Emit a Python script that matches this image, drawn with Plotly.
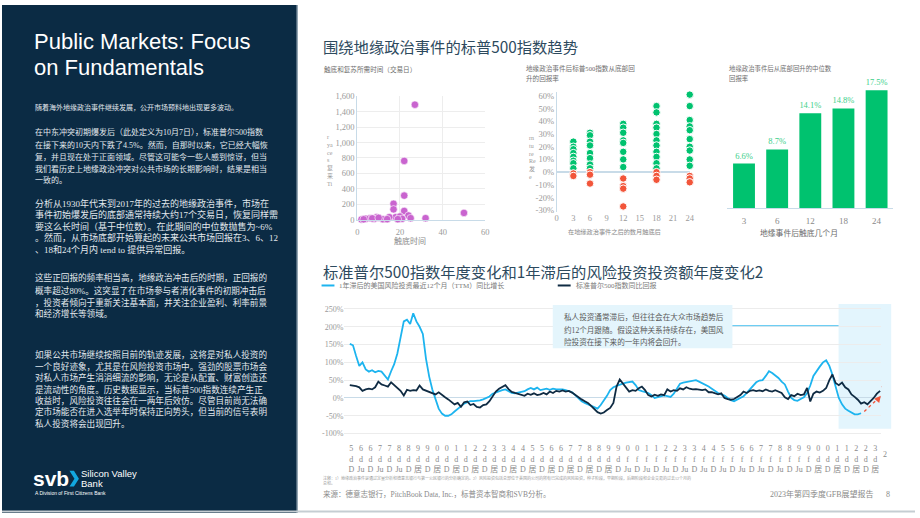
import plotly.graph_objects as go
import pandas as pd

W, H = 920, 518


def X(px):
    return px / W


def Y(py):
    return 1 - py / H


# ---------------- DATA ----------------
# Chart 1: days to bottom vs days to recover (trading days)
bottom_days = [27, 22, 22, 17, 17, 22, 50, 24, 9, 18, 20, 15, 6, 2, 12, 14, 21, 25, 32, 4, 19, 8, 3, 7, 10]
recover_days = [1490, 762, 313, 207, 135, 114, 89, 55, 34, 34, 42, 34, 21, 4, 8, 8, 13, 21, 21, 13, 8, 13, 6, 18, 25]
c1_yticks = [0, 200, 400, 600, 800, 1000, 1200, 1400, 1600]

# Chart 2: returns from the bottom, by months after
pos_months = [3] * 8 + [6] * 8 + [12] * 8 + [18] * 11 + [24] * 10
pos_returns = [24, 20, 18, 15, 12, 9, 7, 3,
               31, 29, 24, 21, 15, 11, 6, 3,
               38, 35, 31, 25, 23, 16, 10, 4,
               52, 47, 38, 35, 30, 25, 21, 16, 12, 7, 3,
               61, 52, 41, 36, 33, 26, 20, 17, 10, 5]
neg_months = [3, 3, 6, 6, 6, 12, 12, 12, 12, 18, 18, 18, 24, 24, 24]
neg_returns = [-1, -3, 0, -2, -9, -5, -11, -13, -27, 0, -3, -6, -3, -5, -8]
c2_yticks = [-30, -20, -10, 0, 10, 20, 30, 40, 50, 60]

# Chart 3: median returns
bar_months = ["3", "6", "12", "18", "24"]
bar_median = [6.6, 8.7, 14.1, 14.8, 17.5]

# Chart 4: YoY series, every two months starting Nov 1995
series_start = "1995-11-01"
sp500_yoy = [
    36,
    35, 33, 30, 20, 24, 26,
    24, 30, 46, 38, 35, 32,
    44, 36, 28, 20, 7, 23,
    20, 22, 21, 35, 24, 20,
    18, 14, 10, 16, 8, 2,
    -4, -12, -18, -14, -25, -12,
    -10, -20, -17, -25, -27, -20,
    -18, -9, 6, 18, 26, 30,
    36, 25, 17, 14, 12, 9,
    6, 12, 9, 13, 8, 10,
    14, 10, 18, 14, 20, 18,
    21, 18, 20, 15, 8, 2,
    -4, -9, -14, -22, -30, -40,
    -44, -41, -34, -28, -14, 32,
    52, 40, 30, 18, 22, 20,
    27, 32, 22, 8, 4, 9,
    6, 10, 8, 24, 18, 22,
    20, 27, 24, 30, 26, 24,
    25, 23, 22, 24, 16, 16,
    14, 10, 13, 0, -3, -5,
    -3, 2, 8, 18, 14, 20,
    22, 19, 21, 19, 24, 20,
    18, 22, 18, 14, 2, -3,
    8, 5, 12, 8, 10, 28,
    -10, 12, 18, 15, 20, 28,
    50, 66, 42, 36, 43, 30,
    24, 10, 3, -5, -16, -12,
    -18, -10, 0, 12, 20,
]
vc_lag_yoy = [
    152,
    148, 118, 90, 100, 80, 74,
    78, 72, 76, 74, 62, 52,
    75, 95, 125, 165, 215, 220,
    208, 238, 215, 200, 180, 110,
    60, 24, -5, -30, -44, -50,
    -50, -46, -38, -30, -22, -16,
    -12, -9, -9, -9, -7, -4,
    -1, 4, 12, 16, 19, 22,
    24, 18, 14, 13, 15, 16,
    19, 24, 28, 24, 29, 22,
    24, 26, 23, 26, 24, 25,
    24, 22, 20, 16, 8, -2,
    -9, -14, -18, -21, -24, -30,
    -20, -8, 6, 22, 30, 34,
    38, 40, 43, 44, 46, 36,
    22, 19, 17, 14, 8, 0,
    2, 5, 7, 5, 3, 12,
    28, 40, 43, 45, 47, 50,
    50, 46, 42, 38, 32, 26,
    19, 14, 10, 7, 0, -6,
    -9, -5, -1, 5, 14, 25,
    34, 44, 49, 50, 62, 75,
    70, 64, 56, 46, 38, 18,
    0, -6, -8, -3, 2, 14,
    35, 62, 76, 88, 100, 106,
    90, 65, 32, 0, -18, -30,
    -36, -42, -46, -46, -43,
]
c4_yticks = [-100, -50, 0, 50, 100, 150, 200, 250]
proj_dates = ["2022-11-01", "2023-08-20"]
proj_vals = [-38, 2]
hook_dates = ["2023-09-20", "2023-11-10", "2024-01-01", "2023-12-05"]
hook_vals = [32, 31, 23, 12]
tick_dates = pd.date_range("1995-12-01", "2023-06-01", freq="6MS")

# ---------------- STYLE ----------------
NAVY = "#0b2b44"
SLATE = "#2d4a5e"
LIGHT_AX = "#c8dbe8"
BLUE = "#1db4ef"
DARK = "#0f2b43"
GREEN = "#00c26f"
RED = "#f2553a"
ORCHID = "#c964cf"
SERIF = "Liberation Serif, Noto Sans CJK SC"
SANS_CJK = "Noto Sans CJK SC"

fig = go.Figure()

# Chart 1 scatter
fig.add_trace(go.Scatter(
    x=bottom_days, y=recover_days, mode="markers", xaxis="x", yaxis="y",
    marker=dict(color=ORCHID, size=7.5, line=dict(color="white", width=0.6)),
    cliponaxis=False, hoverinfo="skip"))

# Chart 2 strip
fig.add_trace(go.Scatter(
    x=pos_months, y=pos_returns, mode="markers", xaxis="x2", yaxis="y2",
    marker=dict(color=GREEN, size=7.5, line=dict(color="white", width=1)),
    cliponaxis=False, hoverinfo="skip"))
fig.add_trace(go.Scatter(
    x=neg_months, y=neg_returns, mode="markers", xaxis="x2", yaxis="y2",
    marker=dict(color=RED, size=7.5, line=dict(color="white", width=1)),
    cliponaxis=False, hoverinfo="skip"))

# Chart 3 bars
fig.add_trace(go.Bar(
    x=bar_months, y=bar_median, xaxis="x3", yaxis="y3",
    marker=dict(color=GREEN, line=dict(width=0)),
    text=[f"{v}%" for v in bar_median], textposition="outside",
    textfont=dict(family=SERIF, size=8.5, color="#3ccf8a"),
    cliponaxis=False, hoverinfo="skip"))

# Chart 4 lines
sp_dates = pd.date_range(series_start, periods=len(sp500_yoy), freq="2MS")
vc_dates = pd.date_range(series_start, periods=len(vc_lag_yoy), freq="2MS")
fig.add_trace(go.Scatter(
    x=vc_dates, y=vc_lag_yoy, mode="lines", xaxis="x4", yaxis="y4",
    line=dict(color=BLUE, width=1.8), hoverinfo="skip", cliponaxis=False))
fig.add_trace(go.Scatter(
    x=sp_dates, y=sp500_yoy, mode="lines", xaxis="x4", yaxis="y4",
    line=dict(color=DARK, width=1.8), hoverinfo="skip", cliponaxis=False))
fig.add_trace(go.Scatter(
    x=proj_dates, y=proj_vals, mode="lines", xaxis="x4", yaxis="y4",
    line=dict(color=RED, width=1.3, dash="dot"), hoverinfo="skip", cliponaxis=False))
fig.add_trace(go.Scatter(
    x=hook_dates, y=hook_vals, mode="lines", xaxis="x4", yaxis="y4",
    line=dict(color=RED, width=1.3, dash="dot", shape="spline"), hoverinfo="skip",
    cliponaxis=False))

# tick text for bottom axis (as rendered in the original, stacked glyphs)
tick_text = []
for d in tick_dates:
    digit = str(d.year)[-1]
    is_dec = d.month == 12
    mid = "d" if (d.year < 2010 or d.year >= 2020) else "f"
    if is_dec:
        bot = "D"
    elif 1996 <= d.year <= 1998 or 2010 <= d.year <= 2019:
        bot = "Ju"
    else:
        bot = "居"
    tick_text.append(f"{digit}<br>{mid}<br>{bot}")

tickfont = dict(family=SERIF, size=8.5, color="#9a9a9a")

fig.update_layout(
    width=W, height=H, margin=dict(l=0, r=0, t=0, b=0),
    paper_bgcolor="white", plot_bgcolor="rgba(0,0,0,0)",
    showlegend=False, bargap=0.34,
    xaxis=dict(domain=[X(358), X(487)], range=[0, 60], tickvals=[0, 20, 40, 60],
               showgrid=True, gridcolor="#ededed", zeroline=False,
               showline=True, linecolor=LIGHT_AX, linewidth=1,
               tickfont=tickfont, ticks="", ticklabelstandoff=4, anchor="y"),
    yaxis=dict(domain=[Y(219), Y(93)], range=[0, 1600], tickmode="array",
               tickvals=c1_yticks, ticktext=[f"{v:,}" for v in c1_yticks],
               showgrid=True, gridcolor="#ededed", zeroline=False,
               showline=True, linecolor=LIGHT_AX, linewidth=1,
               tickfont=tickfont, ticks="", anchor="x"),
    xaxis2=dict(domain=[X(559), X(693)], range=[0, 24], tickvals=list(range(0, 25, 3)),
                showgrid=False, zeroline=False, showline=False,
                tickfont=tickfont, ticks="", anchor="y2"),
    yaxis2=dict(domain=[Y(210.6), Y(88.8)], range=[-31, 63], tickmode="array",
                tickvals=c2_yticks, ticktext=[f"{v}%" for v in c2_yticks],
                showgrid=False, zeroline=True, zerolinecolor=LIGHT_AX,
                zerolinewidth=1.5, showline=True, linecolor=LIGHT_AX, linewidth=1,
                tickfont=tickfont, ticks="", anchor="x2"),
    xaxis3=dict(domain=[X(731), X(898)], type="category", showgrid=False, zeroline=False,
                showline=True, linecolor=LIGHT_AX, linewidth=1.2,
                tickfont=dict(family=SERIF, size=9, color="#8a8a8a"), ticks="",
                ticklabelstandoff=4, anchor="y3"),
    yaxis3=dict(domain=[Y(207), Y(76.7)], range=[0, 19], visible=False, anchor="x3"),
    xaxis4=dict(domain=[X(345), X(886)], type="date", range=["1995-07-20", "2023-09-23"],
                tickmode="array", tickvals=list(tick_dates), ticktext=tick_text, tickangle=0,
                showgrid=False, zeroline=False, showline=False, ticklabelstandoff=7,
                tickfont=dict(family=SERIF, size=8, color="#8a8a8a"), ticks="", anchor="y4"),
    yaxis4=dict(domain=[Y(438.8), Y(305.6)], range=[-105, 262], tickmode="array",
                tickvals=c4_yticks, ticktext=[f"{v}%" for v in c4_yticks],
                showticklabels=True, side="left",
                showgrid=True, gridcolor="#ececec", zeroline=True, zerolinecolor=LIGHT_AX,
                zerolinewidth=1, showline=False,
                tickfont=dict(family=SERIF, size=8, color="#9a9a9a"), ticks="", anchor="x4"),
)

shapes = []
# left navy panel
shapes.append(dict(type="rect", xref="paper", yref="paper", x0=0, x1=X(297), y0=0, y1=1,
                   fillcolor=NAVY, line=dict(width=0), layer="below"))
shapes.append(dict(type="line", xref="paper", yref="paper", x0=X(297.5), x1=X(297.5), y0=0, y1=1,
                   line=dict(color="#6f8798", width=1), layer="below"))
# bottom grey rule
shapes.append(dict(type="line", xref="paper", yref="paper", x0=0, x1=1, y0=Y(516.5), y1=Y(516.5),
                   line=dict(color="#c5cdd2", width=2), layer="above"))
# svb chevron
cx = [68, 72.5, 77.5, 72.5, 68, 73]
cy = [475, 475, 483, 491, 491, 483]
path = "M " + " L ".join(f"{X(a):.5f},{Y(b):.5f}" for a, b in zip(cx, cy)) + " Z"
shapes.append(dict(type="path", xref="paper", yref="paper", path=path,
                   fillcolor="#12a8e0", line=dict(width=0)))
# bottom chart: shaded forecast band, note box, connector
shapes.append(dict(type="rect", xref="paper", yref="paper", x0=X(843), x1=X(896), y0=Y(432), y1=Y(305),
                   fillcolor="#e3f5fd", line=dict(width=0), layer="below"))
shapes.append(dict(type="rect", xref="paper", yref="paper", x0=X(555), x1=X(736), y0=Y(350), y1=Y(306),
                   fillcolor="#e4f5fc", line=dict(width=0), layer="above"))
shapes.append(dict(type="line", xref="paper", yref="paper", x0=X(736), x1=X(843), y0=Y(327), y1=Y(327),
                   line=dict(color="#4fc3f1", width=1)))
# legend swatches
shapes.append(dict(type="line", xref="paper", yref="paper", x0=X(322), x1=X(335), y0=Y(286), y1=Y(286),
                   line=dict(color=BLUE, width=2)))
shapes.append(dict(type="line", xref="paper", yref="paper", x0=X(560), x1=X(573), y0=Y(286), y1=Y(286),
                   line=dict(color=DARK, width=2)))
fig.update_layout(shapes=shapes)

ann = []


def txt(px, py, s, size, color, family=SERIF, xanchor="left", yanchor="middle", weight=None):
    f = dict(family=family, size=size, color=color)
    if weight:
        f["weight"] = weight
    ann.append(dict(xref="paper", yref="paper", x=X(px), y=Y(py), text=s, showarrow=False,
                    xanchor=xanchor, yanchor=yanchor, align="left", font=f, borderpad=0))


# ---- left panel ----
WH = "#ffffff"
BODY = "#e2e8ed"
txt(31, 37, "Public Markets: Focus", 22, WH, family="Liberation Sans", weight=300)
txt(31, 63.5, "on Fundamentals", 22, WH, family="Liberation Sans", weight=300)
txt(32, 105, "随着海外地缘政治事件继续发展，公开市场预料地出现更多波动。", 7, BODY)

para2 = ["在中东冲突初期爆发后（此处定义为10月7日），标准普尔500指数",
         "在接下来的10天内下跌了4.5%。然而，自那时以来，它已经大幅恢",
         "复，并且现在处于正面领域。尽管这可能令一些人感到惊讶，但当",
         "我们看历史上地缘政治冲突对公共市场的长期影响时，结果是相当",
         "一致的。"]
for s, y in zip(para2, [130, 142.5, 155, 167, 178]):
    txt(32, y, s, 8, BODY)

para3 = ["分析从1930年代末到2017年的过去的地缘政治事件，市场在",
         "事件初始爆发后的底部通常持续大约17个交易日，恢复同样需",
         "要这么长时间（基于中位数）。在此期间的中位数抛售为~6%",
         "。然而，从市场底部开始算起的未来公共市场回报在3、6、12",
         "、18和24个月内 tend to 提供异常回报。"]
for s, y in zip(para3, [202, 213.8, 225.6, 237.4, 249.2]):
    txt(32, y, s, 9, BODY)

para4 = ["这些正回报的频率相当高，地缘政治冲击后的时期，正回报的",
         "概率超过80%。这突显了在市场参与者消化事件的初期冲击后",
         "，投资者倾向于重新关注基本面，并关注企业盈利、利率前景",
         "和经济增长等领域。"]
for s, y in zip(para4, [278.3, 291.2, 303.3, 315]):
    txt(32, y, s, 8.6, BODY)

para5 = ["如果公共市场继续按照目前的轨迹发展，这将是对私人投资的",
         "一个良好迹象，尤其是在风险投资市场中。强劲的股票市场会",
         "对私人市场产生涓涓细流的影响，无论是从配置、财富创造还",
         "是流动性的角度。历史数据显示，当标普500指数连续产生正",
         "收益时，风险投资往往会在一两年后效仿。尽管目前尚无法确",
         "定市场能否在进入选举年时保持正向势头，但当前的信号表明",
         "私人投资将会出现回升。"]
for s, y in zip(para5, [356.7, 368.3, 379.8, 391.7, 403.3, 415, 426.7]):
    txt(32, y, s, 8.6, BODY)

# logo
txt(30.5, 482.5, "svb", 21, WH, family="Liberation Sans", weight="bold")
txt(79, 478, "Silicon Valley", 9.5, WH, family="Liberation Sans")
txt(79, 487.5, "Bank", 9.5, WH, family="Liberation Sans")
txt(32, 497.5, "A Division of First Citizens Bank", 5, WH, family="Liberation Sans")

# ---- right side titles ----
txt(322, 42, "围绕地缘政治事件的标普500指数趋势", 15.3, SLATE, family=SANS_CJK)
txt(322, 271, "标准普尔500指数年度变化和1年滞后的风险投资投资额年度变化2", 15.3, SLATE, family=SANS_CJK)

SUB = "#6e6e6e"
txt(323, 66, "触底和复苏所需时间（交易日）", 6.6, SUB)
txt(527, 65, "地缘政治事件后标普500指数从底部回", 6.6, SUB)
txt(527, 74.5, "升的回报率", 6.6, SUB)
txt(732, 65, "地缘政治事件后从底部回升的中位数", 6.4, SUB)
txt(732, 75, "回报率", 6.4, SUB)

# axis titles
txt(411, 240.5, "触底时间", 8, "#8a8a8a", xanchor="center")
txt(617, 231, "在地缘政治事件之后的数月触底后", 6.2, "#8a8a8a", xanchor="center")
txt(803, 232, "地缘事件后触底几个月", 7.8, "#6a6a6a", xanchor="center")
txt(331, 159, "r<br>ya<br>ce<br>s<br>复<br>来<br>Ti", 6, "#9a9a9a", xanchor="center")
txt(535, 156, "rn<br>tu<br>re<br>Re<br>发<br>e", 6, "#9a9a9a", xanchor="center")

# bottom chart legend
txt(339, 286, "1年滞后的美国风险投资最近12个月（TTM）同比增长", 7, "#7a7a7a")
txt(577, 286, "标准普尔500指数同比回报", 7, "#7a7a7a")

# note box
for s, y in zip(["私人投资通常滞后，但往往会在大众市场趋势后",
                 "约12个月跟随。假设这种关系持续存在，美国风",
                 "险投资在接下来的一年内将会回升。"], [318, 331, 343.5]):
    txt(565, y, s, 7.6, "#5a5a5a")

txt(890, 458, "2", 8, "#8a8a8a", xanchor="center")

# footer
txt(322, 482.5, "注释：1）地缘政治事件是通过定量分析和德意志银行与第一公民银行的分析确定的。2）风险投资包括总部位于美国的公司的所有已完成的风险投资，种子阶段，早期阶段，后期阶段和企业交易的过去12个月的", 4, "#9a9a9a")
txt(322, 487.5, "总和。", 4, "#9a9a9a")
txt(322, 499, "来源：德意志银行，PitchBook Data, Inc.，标普资本智商和SVB分析。", 7.5, "#8a8a8a")
txt(880, 499, "2023年第四季度GFB展望报告", 8, "#8a8a8a", xanchor="right")
txt(893, 499, "8", 8, "#8a8a8a", xanchor="center")

# arrow head of projection
ann.append(dict(xref="x4", yref="y4", axref="x4", ayref="y4",
                x="2023-09-15", y=6, ax="2023-08-01", ay=-2, text="", showarrow=True,
                arrowhead=2, arrowsize=1, arrowwidth=1.3, arrowcolor=RED))

fig.update_layout(annotations=ann)

fig.write_html("out.html")
